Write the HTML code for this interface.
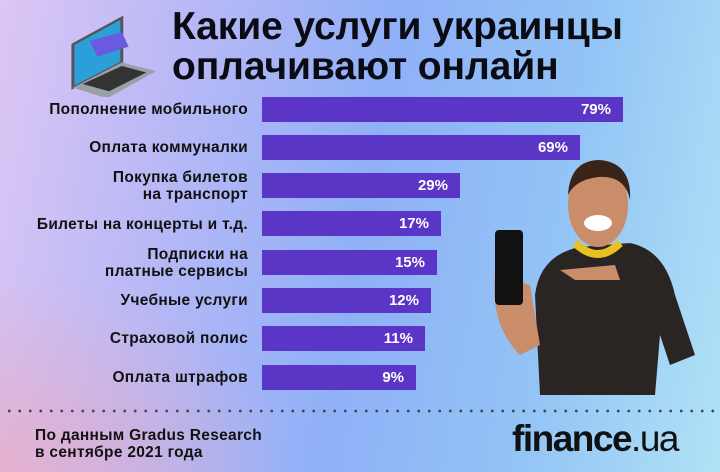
<!DOCTYPE html>
<html><head><meta charset="utf-8"><style>
*{margin:0;padding:0;box-sizing:border-box}
body{width:720px;height:472px;overflow:hidden;position:relative;font-family:"Liberation Sans","DejaVu Sans",sans-serif;
background:linear-gradient(100deg,#dcc6f4 0%,#b7b8f6 25%,#8fb0f7 50%,#93c4f6 75%,#b0e2f6 100%);}
.pink{position:absolute;left:0;bottom:0;width:300px;height:200px;background:radial-gradient(ellipse at 0% 100%,rgba(240,170,190,.7),rgba(240,170,190,0) 70%)}
.t{position:absolute;left:172px;font-weight:bold;font-size:39px;color:#0b0b14;letter-spacing:-0.1px;line-height:40px}
.lab{position:absolute;right:472px;text-align:right;font-weight:bold;font-size:15.5px;letter-spacing:0.3px;color:#111;line-height:17px}
.bar{position:absolute;left:262px;height:25px;background:#5b36c6;color:#fff;font-weight:bold;font-size:15px;text-align:right;padding-right:12px;line-height:25px}
.dots{position:absolute;left:4px;right:0;top:409px;height:4px;background:radial-gradient(circle,#444 1.2px,transparent 1.6px) 0 0/10.5px 4px repeat-x}
.foot{position:absolute;left:35px;top:427px;font-weight:bold;font-size:15.5px;letter-spacing:0.3px;color:#111;line-height:17px}
.logo{position:absolute;left:512px;top:418px;font-weight:bold;font-size:37px;color:#111;letter-spacing:-1.5px}
</style></head><body>
<div class="pink"></div>
<svg style="position:absolute;left:68px;top:12px" width="90" height="85" viewBox="0 0 92 118" preserveAspectRatio="none">
<polygon points="5,45 55,8 55,70 5,105" fill="#2a9fd8" stroke="#555" stroke-width="3"/>
<polygon points="5,105 55,70 90,82 40,120" fill="#9aa0a8"/>
<polygon points="15,100 55,75 80,84 42,110" fill="#333"/>
<polygon points="22,40 55,28 62,48 30,62" fill="#6a5ae0"/>
</svg>
<div class="t" style="top:7px">Какие услуги украинцы</div>
<div class="t" style="top:47px">оплачивают онлайн</div>

<div class="lab" style="top:101px">Пополнение мобильного</div>
<div class="lab" style="top:139px">Оплата коммуналки</div>
<div class="lab" style="top:169px">Покупка билетов<br>на транспорт</div>
<div class="lab" style="top:216px">Билеты на концерты и т.д.</div>
<div class="lab" style="top:246px">Подписки на<br>платные сервисы</div>
<div class="lab" style="top:292px">Учебные услуги</div>
<div class="lab" style="top:330px">Страховой полис</div>
<div class="lab" style="top:369px">Оплата штрафов</div>

<div class="bar" style="top:97px;width:361px">79%</div>
<div class="bar" style="top:135px;width:318px">69%</div>
<div class="bar" style="top:173px;width:198px">29%</div>
<div class="bar" style="top:211px;width:179px">17%</div>
<div class="bar" style="top:250px;width:175px">15%</div>
<div class="bar" style="top:288px;width:169px">12%</div>
<div class="bar" style="top:326px;width:163px">11%</div>
<div class="bar" style="top:365px;width:154px">9%</div>

<svg style="position:absolute;left:480px;top:155px" width="220" height="240">
<path d="M60,240 L55,140 Q60,100 100,92 L150,88 Q185,95 195,140 L215,200 L190,210 L180,180 L175,240 Z" fill="#2a2522"/>
<ellipse cx="118" cy="50" rx="30" ry="42" fill="#c98d6a"/>
<path d="M88,40 Q90,5 120,5 Q152,8 150,45 Q145,20 118,22 Q95,25 88,40Z" fill="#3a2418"/>
<ellipse cx="118" cy="68" rx="14" ry="8" fill="#fff"/>
<path d="M95,88 Q118,110 140,88" stroke="#e8c020" stroke-width="8" fill="none"/>
<path d="M15,120 Q10,170 40,200 L60,190 L50,130 Z" fill="#c98d6a"/>
<rect x="15" y="75" width="28" height="75" rx="4" fill="#111"/>
<path d="M80,115 L135,110 L140,125 L95,125 Z" fill="#c98d6a"/>
</svg>

<div class="dots"></div>
<div class="foot">По данным Gradus Research<br>в сентябре 2021 года</div>
<div class="logo">finance<span style="font-weight:normal">.ua</span></div>
</body></html>
